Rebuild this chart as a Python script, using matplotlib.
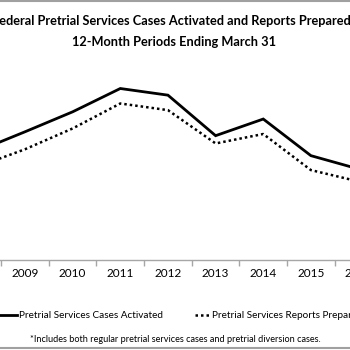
import matplotlib
matplotlib.use("Agg")
import matplotlib.pyplot as plt
from matplotlib.lines import Line2D
import numpy as np

years = ["2008", "2009", "2010", "2011", "2012", "2013", "2014", "2015", "2016"]
cases_activated = [89200, 96200, 103400, 111800, 109400, 94800, 100800, 87600, 82800]
reports_prepared = [83600, 89900, 97400, 106400, 104000, 92000, 95400, 82400, 78300]
series_names = ["Pretrial Services Cases Activated", "Pretrial Services Reports Prepared"]

plt.rcParams['font.family'] = ['Lato', 'DejaVu Sans']

W, H = 350, 350
fig = plt.figure(figsize=(3.5, 3.5), dpi=100)

# axes deliberately wider than the figure (the reference is a crop)
x_left, x_right = -46.5, 382.4
y_bot, y_top = 260, 38
ax = fig.add_axes([x_left / W, 1 - y_bot / H, (x_right - x_left) / W, (y_bot - y_top) / H])

x = np.arange(len(years))
dotted = (0, (1, 1.2))
ax.plot(x, cases_activated, color='black', lw=2.0, solid_joinstyle='miter')
ax.plot(x, reports_prepared, color='black', lw=1.8, linestyle=dotted)

ax.set_xlim(-0.5, len(years) - 0.5)
ax.set_ylim(50000, 130000)
ax.set_yticks([])
for s in ['top', 'left', 'right']:
    ax.spines[s].set_visible(False)
ax.spines['bottom'].set_color('#a6a6a6')
ax.spines['bottom'].set_linewidth(1.0)

ax.set_xticks(x)
ax.set_xticklabels(years, fontsize=8.5)
ax.set_xticks(np.arange(-0.5, len(years)), minor=True)
ax.tick_params(axis='x', which='major', length=0, pad=6)
ax.tick_params(axis='x', which='minor', length=4, color='#a6a6a6', width=1.0)

# title
fig.text(174 / W, 1 - 21 / H, "Federal Pretrial Services Cases Activated and Reports Prepared*",
         ha='center', va='center', fontsize=9.2, fontweight='bold')
fig.text(174 / W, 1 - 42 / H, "12-Month Periods Ending March 31",
         ha='center', va='center', fontsize=9.2, fontweight='bold')

# legend, laid out by hand to follow the cropped original
ly = 1 - 315 / H
fig.add_artist(Line2D([-10 / W, 17 / W], [ly, ly], color='black', lw=2.0))
fig.text(19 / W, ly, series_names[0], ha='left', va='center', fontsize=7.2)
fig.add_artist(Line2D([195 / W, 210 / W], [ly, ly], color='black', lw=1.8, linestyle=dotted))
fig.text(212 / W, ly, series_names[1], ha='left', va='center', fontsize=7.2)

# footnote
fig.text(175 / W, 1 - 340 / H,
         "*Includes both regular pretrial services cases and pretrial diversion cases.",
         ha='center', va='center', fontsize=6.6)

# gray frame lines at top and bottom
fig.add_artist(Line2D([0, 1], [1 - 0.8 / H, 1 - 0.8 / H], color='#a0a0a0', lw=1.5))
fig.add_artist(Line2D([0, 1], [1 - 348 / H, 1 - 348 / H], color='#a0a0a0', lw=1.5))

fig.savefig("out.png", dpi=100)
